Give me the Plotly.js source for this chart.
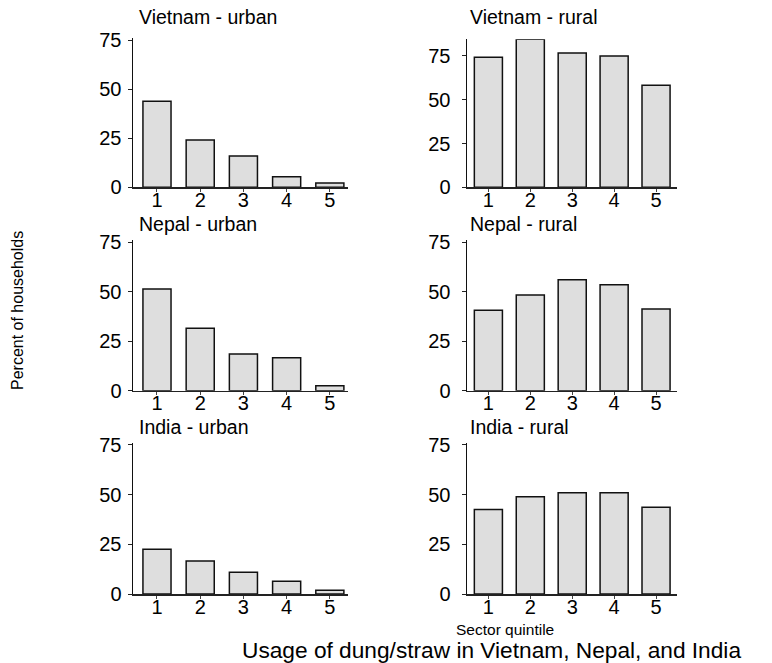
<!DOCTYPE html>
<html>
<head>
<meta charset="utf-8">
<script src="https://cdn.plot.ly/plotly-3.0.1.min.js"></script>
<style>
  html, body { margin: 0; padding: 0; background: #fff; }
  #chart { width: 772px; height: 663px; }
</style>
</head>
<body>
<div id="chart"></div>
<script>
// Sector quintiles shown on every panel
const quintiles = [1, 2, 3, 4, 5];
const quintileLabels = ['1', '2', '3', '4', '5'];
const yTicks = [0, 25, 50, 75];

// Percent of households using dung/straw, by sector quintile
const vietnamUrban = [43.9, 24.1, 16.0, 5.4, 2.2];
const vietnamRural = [74.2, 84.5, 76.7, 75.0, 58.2];
const nepalUrban   = [51.4, 31.5, 18.5, 16.7, 2.5];
const nepalRural   = [40.6, 48.3, 56.1, 53.5, 41.3];
const indiaUrban   = [22.5, 16.6, 10.9, 6.4, 1.9];
const indiaRural   = [42.5, 48.9, 50.9, 50.9, 43.7];

const panelTitles = [
  'Vietnam - urban', 'Vietnam - rural',
  'Nepal - urban', 'Nepal - rural',
  'India - urban', 'India - rural'
];
const panelValues = [vietnamUrban, vietnamRural, nepalUrban, nepalRural, indiaUrban, indiaRural];

const W = 772, H = 663;
const px = v => v / W;
const py = v => 1 - v / H;
const FONT = 'Liberation Sans, Arial, Helvetica, sans-serif';

// Panel geometry in pixels: [left, right] columns and [top, bottom] rows
const cols = [
  { x0: 133, x1: 348, range: [0.445, 5.42], titleX: 137, standoff: 2 },
  { x0: 467, x1: 677, range: [0.49, 5.5], titleX: 468, standoff: 7 }
];
const rows = [
  { bottom: 187.3, titleY: 17 },
  { bottom: 390.7, titleY: 224 },
  { bottom: 594, titleY: 427 }
];
// y-range per panel (Vietnam rural runs to its tallest bar)
const yMax = [76, 84.5, 76, 76, 76, 76];
const yTop = [38.3, 39.3, 240.3, 240.3, 443, 443];

const traces = [];
const layout = {
  width: W, height: H,
  margin: { l: 0, r: 0, t: 0, b: 0 },
  paper_bgcolor: '#fff',
  plot_bgcolor: 'rgba(0,0,0,0)',
  showlegend: false,
  bargap: 0,
  font: { family: FONT, color: '#000' },
  annotations: []
};

panelValues.forEach((vals, i) => {
  const r = Math.floor(i / 2), c = i % 2;
  const n = i + 1;
  const xa = 'x' + (n === 1 ? '' : n);
  const ya = 'y' + (n === 1 ? '' : n);
  traces.push({
    type: 'bar',
    x: quintiles,
    y: vals,
    width: c === 0 ? 0.65 : 0.67,
    xaxis: xa, yaxis: ya,
    marker: { color: '#dedede', line: { color: '#111', width: 1.5 } },
    hoverinfo: 'x+y'
  });
  const col = cols[c], row = rows[r];
  layout['xaxis' + (n === 1 ? '' : n)] = {
    domain: [px(col.x0), px(col.x1)],
    anchor: ya,
    range: col.range,
    tickvals: quintiles,
    ticktext: quintileLabels,
    ticks: 'outside', ticklen: 3, tickwidth: 1, tickcolor: '#444',
    ticklabelstandoff: -9,
    showgrid: false, zeroline: false,
    showline: true, linecolor: '#222', linewidth: 1.5,
    tickfont: { family: FONT, size: 20, color: '#000' },
    fixedrange: true
  };
  layout['yaxis' + (n === 1 ? '' : n)] = {
    domain: [py(row.bottom), py(yTop[i])],
    anchor: xa,
    range: [0, yMax[i]],
    tickvals: yTicks,
    ticks: 'outside', ticklen: 4, tickwidth: 1, tickcolor: '#222',
    ticklabelstandoff: col.standoff,
    showgrid: false, zeroline: false,
    showline: true, linecolor: '#111', linewidth: 1.5,
    tickfont: { family: FONT, size: 20, color: '#000' },
    fixedrange: true
  };
  layout.annotations.push({
    text: panelTitles[i],
    xref: 'paper', yref: 'paper',
    x: px(col.titleX), y: py(row.titleY),
    xanchor: 'left', yanchor: 'middle',
    showarrow: false,
    font: { family: FONT, size: 19.5, color: '#000' }
  });
});

// Shared axis labels and the chart title
layout.annotations.push({
  text: 'Sector quintile',
  xref: 'paper', yref: 'paper',
  x: px(505), y: py(629),
  xanchor: 'center', yanchor: 'middle',
  showarrow: false,
  font: { family: FONT, size: 15.5, color: '#000' }
});
layout.annotations.push({
  text: 'Percent of households',
  xref: 'paper', yref: 'paper',
  x: px(17), y: py(311),
  xanchor: 'center', yanchor: 'middle',
  textangle: -90,
  showarrow: false,
  font: { family: FONT, size: 16, color: '#000' }
});
layout.annotations.push({
  text: 'Usage of dung/straw in Vietnam, Nepal, and India',
  xref: 'paper', yref: 'paper',
  x: px(491), y: py(650),
  xanchor: 'center', yanchor: 'middle',
  showarrow: false,
  font: { family: FONT, size: 22.7, color: '#000' }
});

Plotly.newPlot('chart', traces, layout, { displayModeBar: false, staticPlot: true });
</script>
</body>
</html>
